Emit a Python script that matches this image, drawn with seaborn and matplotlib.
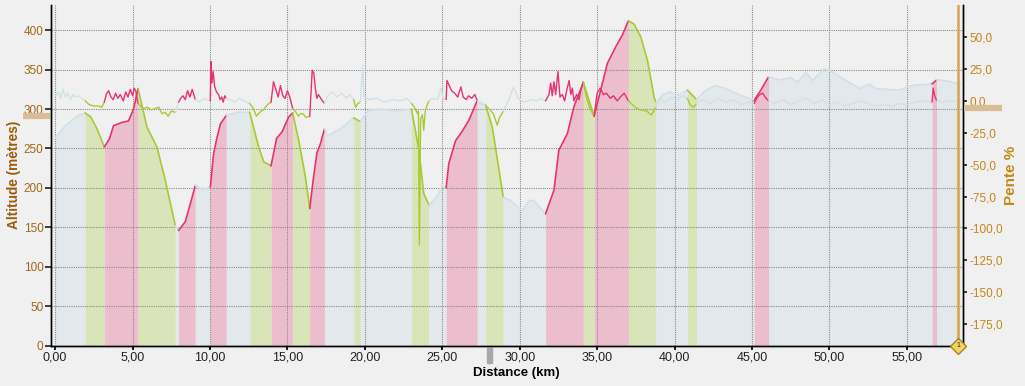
import numpy as np
import pandas as pd
import matplotlib
matplotlib.use("Agg")
import matplotlib.pyplot as plt
import matplotlib.transforms as mtrans
from matplotlib.patches import Rectangle
from matplotlib.ticker import FuncFormatter
import seaborn as sns

# altitude profile (km, metres)
dist = [0.0, 0.3, 0.6, 0.9, 1.2, 1.5, 1.94, 2.3, 2.7, 3.17, 3.5, 3.77, 4.3, 4.74, 5.06, 5.35,
        5.93, 6.57, 7.11, 7.76, 7.97, 8.4, 8.73, 9.05, 9.5, 10.02, 10.23, 10.45, 10.67, 11.05,
        11.8, 12.56, 13.14, 13.47, 13.94, 14.3, 14.65, 15.08, 15.34, 15.73, 16.16, 16.44, 16.7,
        16.91, 17.13, 17.39, 17.6, 18.5, 19.28, 19.71, 20.2, 21.0, 22.0, 23.01, 23.49, 23.8,
        24.14, 24.7, 25.0, 25.25, 25.42, 25.86, 26.29, 26.72, 27.26, 27.8, 28.23, 28.94, 29.4,
        30.17, 30.6, 30.92, 31.67, 32.21, 32.53, 33.08, 33.5, 34.11, 34.8, 35.23, 35.66, 36.2,
        36.63, 37.02, 37.38, 37.81, 38.25, 38.68, 38.8, 39.2, 39.7, 40.2, 40.83, 41.43, 41.9,
        42.6, 43.3, 44.2, 45.14, 45.57, 46.07, 46.76, 47.5, 47.94, 48.48, 48.9, 49.66, 50.2,
        50.85, 51.93, 52.57, 53.0, 54.5, 55.38, 56.63, 56.93, 57.5, 58.45]
alt = [263, 270, 278, 283, 288, 292, 295, 290, 275, 252, 262, 279, 283, 285, 300, 326,
       277, 252, 210, 152, 146, 157, 180, 203, 198, 201, 243, 264, 281, 292,
       296, 296, 252, 233, 228, 263, 271, 290, 295, 260, 214, 174, 216,
       245, 256, 275, 266, 276, 289, 284, 298, 300, 298, 300, 248, 193,
       178, 190, 203, 200, 231, 260, 272, 286, 311, 305, 277, 188, 184,
       171, 184, 184, 167, 197, 248, 269, 303, 334, 291, 324, 358, 379,
       394, 412, 408, 392, 362, 315, 308, 318, 322, 318, 324, 312, 322,
       330, 326, 318, 311, 324, 341, 337, 340, 334, 347, 336, 351, 347,
       339, 326, 332, 326, 324, 330, 332, 337, 336, 332]

# slope (km, %)
slope_km = [0.0, 0.2, 0.35, 0.5, 0.65, 0.8, 1.0, 1.15, 1.3, 1.5, 1.7, 1.94,
            2.2, 2.5, 2.8, 3.0, 3.17,
            3.3, 3.45, 3.6, 3.75, 3.9, 4.05, 4.2, 4.4, 4.55, 4.7, 4.85, 5.0, 5.1, 5.2, 5.35,
            5.5, 5.7, 5.95, 6.2, 6.45, 6.7, 6.9, 7.1, 7.3, 7.5, 7.76,
            7.97, 8.1, 8.25, 8.4, 8.55, 8.7, 8.85, 9.05,
            9.3, 9.6, 9.8, 10.02,
            10.05, 10.12, 10.2, 10.3, 10.42, 10.55, 10.65, 10.75, 10.85, 10.95, 11.05,
            11.3, 11.6, 11.9, 12.2, 12.56,
            12.8, 13.0, 13.2, 13.45, 13.7, 13.94,
            14.1, 14.25, 14.4, 14.55, 14.7, 14.85, 15.0, 15.15, 15.34,
            15.5, 15.7, 15.85, 16.0, 16.2, 16.44,
            16.6, 16.7, 16.8, 16.9, 17.0, 17.2, 17.39,
            17.6, 17.9, 18.2, 18.5, 18.8, 19.0, 19.28,
            19.4, 19.55, 19.71,
            19.85, 19.95, 20.3, 20.8, 21.3, 21.8, 22.3, 22.7, 23.01,
            23.2, 23.4, 23.46, 23.52, 23.6, 23.72, 23.8, 23.9, 24.0, 24.14,
            24.4, 24.7, 24.9, 25.05, 25.25,
            25.3, 25.45, 25.6, 25.8, 26.0, 26.2, 26.35, 26.55, 26.7, 26.9, 27.1, 27.26,
            27.5, 27.8,
            28.0, 28.3, 28.55, 28.7, 28.85, 28.94,
            29.3, 29.6, 29.9, 30.3, 30.7, 31.1, 31.4, 31.67,
            31.89, 32.0, 32.1, 32.21, 32.32, 32.47, 32.6, 32.75, 32.9, 33.03, 33.19, 33.3, 33.4,
            33.5, 33.67, 33.83, 33.94, 34.11,
            34.3, 34.5, 34.8,
            35.0, 35.2, 35.4, 35.6, 35.85, 36.05, 36.3, 36.5, 36.75, 37.02,
            37.2, 37.45, 37.8, 38.2, 38.5, 38.8,
            39.1, 39.4, 39.8, 40.2, 40.5, 40.83,
            41.0, 41.2, 41.43,
            41.8, 42.3, 42.8, 43.3, 43.8, 44.3, 44.8, 45.14,
            45.3, 45.5, 45.7, 45.85, 46.07,
            46.5, 47.0, 47.5, 48.0, 48.5, 49.0, 49.5, 50.0, 50.5, 51.0, 51.5, 52.0, 52.5, 53.0,
            53.5, 54.0, 54.5, 55.0, 55.5, 56.0, 56.63,
            56.7, 56.8, 56.93,
            57.3, 57.8, 58.45]
slope_pct = [4, 7, 2, 9, 3, 6, 1, 5, 3, 4, 2, 0,
             -3, -4, -4, -5, -1,
             5, 8, 3, 1, 6, 2, 5, 0, 7, 3, 9, 4, 10, 8, -2,
             -4, -6, -5, -7, -6, -5, -10, -9, -12, -8, -9,
             -1, 2, 4, 1, 8, 3, 9, 1,
             -1, 2, 1, 0,
             31, 14, 23, 11, 7, 5, 1, 3, -1, 4, 2,
             1, -1, 2, 0, -2,
             -6, -12, -9, -7, -3, -1,
             15, 9, 3, 12, 4, 2, 8, 3, -6,
             -8, -12, -10, -10, -13, -12,
             24, 22, 10, 2, 5, 1, -2,
             4, 7, 3, 6, 2, 5, 1,
             -5, -2, -1,
             28, 3, 1, 2, -1, 1, 0, 2, -2,
             -5, -10, -8, -113, -14, -11, -23, -8, -4, 0,
             2, 1, 10, 2, 1,
             16, 12, 8, 6, 3, 11, 3, 1, 4, 2, 5, 0,
             -3, -4,
             -6, -10, -19, -13, -10, -8,
             1, 11, 2, -1, 1, 0, 2, 0,
             5, 14, 4, 15, 5, 23, 3, 5, 0, 8, 16, 5, 10,
             0, 5, 1, 8, 15,
             3, -5, -12,
             6, 10, 5, 6, 2, 4, 0, 3, 6, 0,
             -2, -5, -7, -8, -11, -5,
             2, -1, 3, 1, 4, 2,
             -3, -5, -2,
             1, -2, 2, -1, 1, -3, -1, -2,
             2, 5, 6, 3, 0,
             -2, 1, -3, 0, 2, -2, 1, -3, -1, -4, -2, 0, -2, -4,
             -3, -4, -2, -3, -1, 0, -1,
             10, 4, 0,
             -1, 0, -1]

# segments: f = flat, u = climb, d = descent
seg_edges = [0, 1.94, 3.17, 5.35, 7.76, 7.97, 9.05, 10.02, 11.05, 12.56, 13.94, 15.34, 16.44,
             17.39, 19.28, 19.71, 23.01, 24.14, 25.25, 27.26, 27.8, 28.94, 31.67, 34.11, 34.8,
             37.02, 38.8, 40.83, 41.43, 45.14, 46.07, 56.63, 56.93, 58.45]
seg_kind = ['f', 'd', 'u', 'd', 'f', 'u', 'f', 'u', 'f', 'd', 'u', 'd', 'u', 'f', 'd', 'f', 'd',
            'f', 'u', 'f', 'd', 'f', 'u', 'd', 'u', 'd', 'f', 'd', 'f', 'u', 'f', 'u', 'f']

fill_col = {'f': '#e2e8ec', 'u': '#ecbdcd', 'd': '#d9e5b9'}
line_col = {'f': '#cfe1ea', 'u': '#e6336c', 'd': '#a9c934'}


def by_segment(x, y):
    rows = []
    for i, k in enumerate(seg_kind):
        a, b = seg_edges[i], seg_edges[i + 1]
        for xv, yv in zip(x, y):
            if a - 1e-9 <= xv <= b + 1e-9:
                rows.append((i, k, xv, yv))
    return pd.DataFrame(rows, columns=['seg', 'kind', 'km', 'val'])


alt_df = by_segment(dist, alt)
slope_df = by_segment(slope_km, slope_pct)
pal = {i: line_col[k] for i, k in enumerate(seg_kind)}

sns.set_theme(style="ticks", rc={
    'axes.facecolor': '#f0f0f0', 'figure.facecolor': '#f0f0f0',
    'axes.edgecolor': 'black', 'axes.linewidth': 1.0,
    'xtick.major.size': 3, 'ytick.major.size': 4,
})
plt.rcParams['font.family'] = ['Liberation Sans', 'DejaVu Sans']

fig = plt.figure(figsize=(10.25, 3.86), dpi=100)
ax = fig.add_axes([0.0493, 0.1049, 0.8898, 0.882])

for i, k in enumerate(seg_kind):
    sub = alt_df[alt_df.seg == i]
    ax.fill_between(sub.km, 0, sub.val, color=fill_col[k], lw=0, zorder=1)

sns.lineplot(data=alt_df, x='km', y='val', hue='seg', palette=pal, legend=False,
             estimator=None, linewidth=1.2, ax=ax, zorder=2)

ax.set_axisbelow('line')
ax.grid(True, color='#8a8a8a', linestyle=(0, (1, 1)), linewidth=0.8)
ax.set_xlim(-0.3, 58.6)
ax.set_ylim(0, 432)
ax.set_xticks(np.arange(0, 56, 5))
ax.set_yticks(np.arange(0, 401, 50))
ax.xaxis.set_major_formatter(FuncFormatter(lambda v, p: f"{v:.2f}".replace('.', ',')))
ax.tick_params(axis='x', labelsize=9, colors='black', labelcolor='#222222', pad=1.5)
ax.tick_params(axis='y', labelsize=8.5, labelcolor='#a0681a', pad=1)
ax.spines['top'].set_visible(False)
ax.set_xlabel('Distance (km)', fontsize=9.5, fontweight='bold', color='black')
ax.xaxis.set_label_coords(0.511, -0.063)
ax.set_ylabel('Altitude (mètres)', fontsize=9.8, fontweight='bold', color='#9c5c0c')
ax.yaxis.set_label_coords(-0.0323, 0.5)

ax2 = ax.twinx()
sns.lineplot(data=slope_df, x='km', y='val', hue='seg', palette=pal, legend=False,
             estimator=None, linewidth=1.0, ax=ax2)
ax2.set_ylim(-191.7, 75.1)
ax2.set_yticks(np.arange(-175, 51, 25))
ax2.yaxis.set_major_formatter(FuncFormatter(lambda v, p: f"{v:.1f}".replace('.', ',')))
ax2.tick_params(axis='y', labelsize=8.5, labelcolor='#c9841a', length=3, pad=2)
ax2.spines['top'].set_visible(False)
ax2.set_ylabel('Pente %', fontsize=11, fontweight='bold', color='#c08a1a')
ax2.yaxis.set_label_coords(1.0455, 0.5)
ax2.set_xlabel('')

# level markers and cursor
tl = mtrans.blended_transform_factory(ax.transAxes, ax.transData)
ax.plot([-0.030, -0.001], [291, 291], transform=tl, color='#d9bd96', lw=4.5,
        solid_capstyle='butt', clip_on=False, zorder=5)
tr = mtrans.blended_transform_factory(ax2.transAxes, ax2.transData)
ax2.plot([1.0015, 1.043], [-5.5, -5.5], transform=tr, color='#d9bd96', lw=4.5,
         solid_capstyle='butt', clip_on=False, zorder=5)
ax2.axvline(58.32, color='#d6a44a', lw=1.8, zorder=6)
ax2.plot([58.32], [-191.7], marker='D', markersize=8, color='#f2d462',
         markeredgecolor='#a58222', clip_on=False, zorder=7)
ax2.text(58.32, -191.7, '1', fontsize=5, ha='center', va='center', zorder=8)
ax.add_patch(Rectangle((0.4785, -0.052), 0.0055, 0.05, transform=ax.transAxes,
                       color='#a8a8a8', clip_on=False, zorder=5))

fig.savefig('out.png', dpi=100, facecolor=fig.get_facecolor())
